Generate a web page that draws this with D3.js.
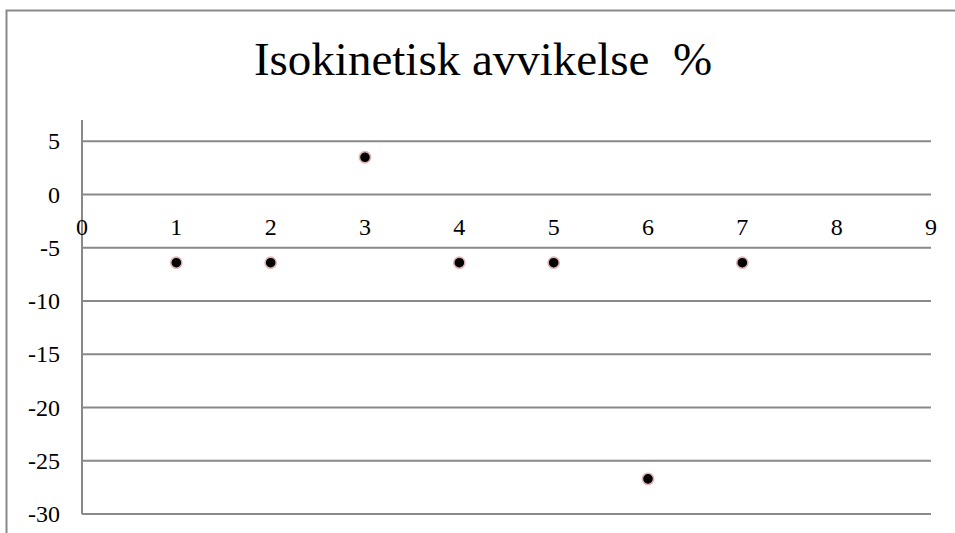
<!DOCTYPE html>
<html>
<head>
<meta charset="utf-8">
<script src="https://cdn.jsdelivr.net/npm/d3@7"></script>
<style>
  html, body { margin: 0; padding: 0; background: #fff; }
  svg { display: block; }
  text { font-family: "Liberation Serif", "Times New Roman", serif; fill: #000; }
</style>
</head>
<body>
<svg id="chart" width="955" height="533"></svg>
<script>
// Measurement points and their deviation in percent
const xValues = [1, 2, 3, 4, 5, 6, 7];
const yValues = [-6.4, -6.4, 3.5, -6.4, -6.4, -26.7, -6.4];
const xTicks = [0, 1, 2, 3, 4, 5, 6, 7, 8, 9];
const yTicks = [5, 0, -5, -10, -15, -20, -25, -30];
const title = "Isokinetisk avvikelse  %";

const svg = d3.select("#chart");
const grid = "#898989";

const x = d3.scaleLinear().domain([0, 9]).range([82, 931]);
const y = d3.scaleLinear().domain([-30, 7]).range([514, 120]);

// chart frame
svg.append("path")
  .attr("d", "M6.5,533 V10.5 H955")
  .attr("fill", "none")
  .attr("stroke", grid)
  .attr("stroke-width", 2);

// title
svg.append("text")
  .attr("x", 483)
  .attr("y", 75)
  .attr("text-anchor", "middle")
  .style("font-size", "47px")
  .style("white-space", "pre")
  .text(title);

// horizontal gridlines
svg.append("g")
  .selectAll("line")
  .data(yTicks)
  .join("line")
  .attr("x1", x(0))
  .attr("x2", x(9))
  .attr("y1", d => y(d))
  .attr("y2", d => y(d))
  .attr("stroke", grid)
  .attr("stroke-width", 2);

// vertical axis line
svg.append("line")
  .attr("x1", x(0)).attr("x2", x(0))
  .attr("y1", y(7)).attr("y2", y(-30))
  .attr("stroke", grid)
  .attr("stroke-width", 2);

// y tick labels
svg.append("g")
  .selectAll("text")
  .data(yTicks)
  .join("text")
  .attr("x", 60)
  .attr("y", d => y(d))
  .attr("dy", "0.34em")
  .attr("text-anchor", "end")
  .style("font-size", "24px")
  .text(d => d);

// x tick labels, placed just below the zero line
svg.append("g")
  .selectAll("text")
  .data(xTicks)
  .join("text")
  .attr("x", d => x(d))
  .attr("y", y(0) + 32)
  .attr("dy", "0.34em")
  .attr("text-anchor", "middle")
  .style("font-size", "24px")
  .text(d => d);

// data points
svg.append("g")
  .selectAll("circle")
  .data(xValues.map((v, i) => [v, yValues[i]]))
  .join("circle")
  .attr("cx", d => x(d[0]))
  .attr("cy", d => y(d[1]))
  .attr("r", 5.6)
  .attr("fill", "#000")
  .attr("stroke", "#e0b4b4")
  .attr("stroke-width", 1.6);
</script>
</body>
</html>
